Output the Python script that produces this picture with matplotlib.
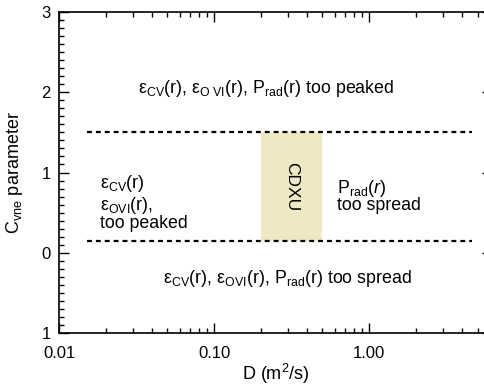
import matplotlib
matplotlib.use("Agg")
import matplotlib.pyplot as plt
from matplotlib.patches import Rectangle
from matplotlib.ticker import LogLocator, MultipleLocator, FixedLocator, NullFormatter

plt.rcParams['font.family'] = ['Liberation Sans', 'DejaVu Sans']
plt.rcParams['mathtext.fontset'] = 'custom'
plt.rcParams['mathtext.rm'] = 'Liberation Sans'
plt.rcParams['mathtext.it'] = 'Liberation Sans:italic'

# limits of the valid region
d_range = [0.0152, 4.6]
c_bounds = [1.5, 0.15]

# CDXU box
cdxu_d = [0.2, 0.5]
cdxu_c = [0.15, 1.5]

y_ticks = [-1, 0, 1, 2, 3]
y_ticklabels = ['1', '0', '1', '2', '3']
x_ticks = [0.01, 0.1, 1.0]
x_ticklabels = ['0.01', '0.10', '1.00']

fig = plt.figure(figsize=(4.84, 3.86), dpi=100)
ax = fig.add_axes([59/484, 53/386, 433/484, 321/386])
ax.set_xscale('log')
ax.set_xlim(0.01, 6.2)
ax.set_ylim(-1, 3)

ax.add_patch(Rectangle((cdxu_d[0], cdxu_c[0]), cdxu_d[1] - cdxu_d[0],
                       cdxu_c[1] - cdxu_c[0], facecolor='#eee8c4',
                       edgecolor='none', zorder=1))
ax.text((cdxu_d[0]*cdxu_d[1])**0.5, sum(cdxu_c)/2, 'CDXU', rotation=-90,
        ha='center', va='center', fontsize=12.5)

for c in c_bounds:
    ax.plot(d_range, [c, c], color='black', lw=1.6,
            linestyle=(0, (2.2, 1.8)), zorder=2)

fs = 12.8
kw = dict(ha='left', va='baseline', fontsize=fs)
ax.text(0.0324, 1.99,
        r'ε$_\mathrm{CV}$(r), ε$_\mathrm{O\ VI}$(r), P$_\mathrm{rad}$(r) too peaked',
        **kw)
ax.text(0.0184, 0.81, r'ε$_\mathrm{CV}$(r)', **kw)
ax.text(0.0184, 0.53, r'ε$_\mathrm{OVI}$(r),', **kw)
ax.text(0.0184, 0.305, 'too peaked', **kw)
ax.text(0.622, 0.745, r'P$_\mathrm{rad}$($\mathit{r}$)', **kw)
ax.text(0.622, 0.533, 'too spread', **kw)
ax.text(0.0469, -0.377,
        r'ε$_\mathrm{CV}$(r), ε$_\mathrm{OVI}$(r), P$_\mathrm{rad}$(r) too spread',
        **kw)

ax.xaxis.set_major_locator(FixedLocator(x_ticks))
ax.set_xticklabels(x_ticklabels)
ax.xaxis.set_minor_locator(LogLocator(base=10, subs=range(2, 10)))
ax.xaxis.set_minor_formatter(NullFormatter())
ax.set_yticks(y_ticks)
ax.set_yticklabels(y_ticklabels)
ax.yaxis.set_minor_locator(MultipleLocator(0.1))

ax.tick_params(which='both', direction='in', top=True, right=True,
               labelsize=12, width=1)
ax.tick_params(axis='x', which='major', length=7, pad=9)
ax.tick_params(axis='y', which='major', length=7, pad=6)
ax.tick_params(which='minor', length=3.5)
for s in ax.spines.values():
    s.set_linewidth(1.2)

ax.set_xlabel(r'D (m$^\mathrm{2}$/s)', fontsize=13, labelpad=1)
ax.set_ylabel(r'C$_\mathrm{vne}$ parameter', fontsize=13, labelpad=12)

fig.savefig('out.png', dpi=100)
